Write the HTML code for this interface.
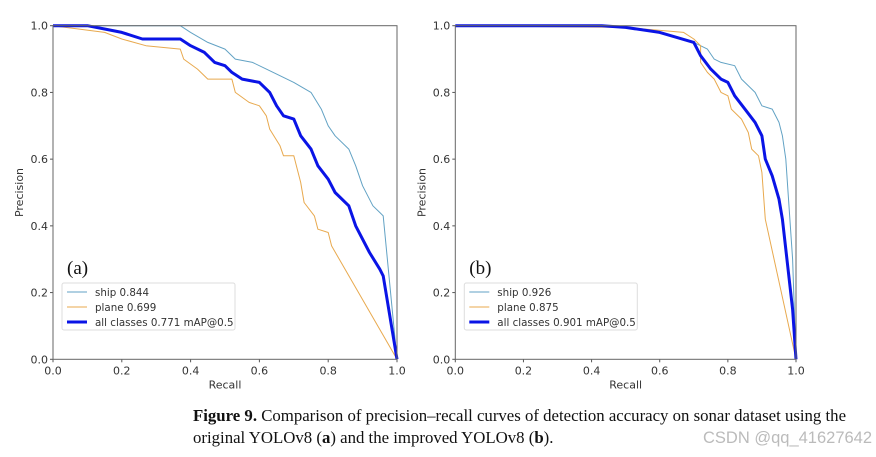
<!DOCTYPE html>
<html><head><meta charset="utf-8"><style>
body{margin:0;background:#fff;width:876px;height:452px;overflow:hidden}
svg text{font-family:"DejaVu Sans","Liberation Sans",sans-serif}
.cap{font-family:"Liberation Serif",serif;font-size:16.8px;fill:#111}
</style></head><body>
<svg id="fig" width="876" height="452" xmlns="http://www.w3.org/2000/svg">
<text class="cap" x="193" y="421"><tspan font-weight="bold">Figure 9.</tspan> Comparison of precision–recall curves of detection accuracy on sonar dataset using the</text>
<text class="cap" x="193" y="443">original YOLOv8 (<tspan font-weight="bold">a</tspan>) and the improved YOLOv8 (<tspan font-weight="bold">b</tspan>).</text>
<text x="703" y="443" font-size="16.5" fill="#bbb" style="font-family:'Liberation Sans',sans-serif">CSDN @qq_41627642</text>
</svg>
<script>
const ticks=[0,0.2,0.4,0.6,0.8,1.0];
const tickLabels=["0.0","0.2","0.4","0.6","0.8","1.0"];
const aShipR=[0,0.37,0.4,0.45,0.5,0.53,0.58,0.62,0.65,0.7,0.75,0.78,0.8,0.82,0.86,0.88,0.9,0.93,0.95,0.96,1.0];
const aShipP=[1,1,0.98,0.95,0.93,0.90,0.89,0.87,0.855,0.83,0.80,0.75,0.70,0.67,0.63,0.58,0.52,0.46,0.44,0.43,0];
const aPlaneR=[0,0.15,0.2,0.27,0.37,0.38,0.42,0.45,0.52,0.53,0.57,0.6,0.62,0.63,0.66,0.67,0.7,0.72,0.73,0.76,0.77,0.8,0.81,1.0];
const aPlaneP=[1,0.98,0.96,0.94,0.93,0.90,0.87,0.84,0.84,0.80,0.77,0.76,0.73,0.69,0.64,0.61,0.61,0.53,0.47,0.43,0.39,0.38,0.34,0];
const aAllR=[0,0.1,0.15,0.2,0.26,0.37,0.4,0.44,0.47,0.5,0.52,0.55,0.6,0.63,0.65,0.67,0.7,0.72,0.75,0.77,0.8,0.82,0.86,0.88,0.92,0.95,0.96,1.0];
const aAllP=[1,1,0.99,0.98,0.96,0.96,0.94,0.92,0.89,0.88,0.86,0.84,0.83,0.80,0.76,0.73,0.72,0.67,0.63,0.58,0.54,0.50,0.46,0.40,0.32,0.27,0.25,0];
const bShipR=[0,0.4,0.5,0.6,0.65,0.7,0.74,0.76,0.78,0.82,0.84,0.88,0.9,0.93,0.95,0.96,0.97,0.98,0.99,1.0];
const bShipP=[1,1,0.995,0.98,0.965,0.95,0.93,0.90,0.89,0.88,0.84,0.80,0.76,0.75,0.71,0.67,0.60,0.45,0.30,0];
const bPlaneR=[0,0.5,0.67,0.7,0.72,0.72,0.74,0.76,0.78,0.8,0.81,0.84,0.86,0.87,0.89,0.9,0.91,1.0];
const bPlaneP=[1,0.995,0.98,0.96,0.94,0.89,0.86,0.84,0.80,0.79,0.75,0.72,0.68,0.63,0.61,0.56,0.42,0];
const bAllR=[0,0.43,0.5,0.6,0.65,0.7,0.72,0.75,0.78,0.8,0.82,0.85,0.88,0.9,0.91,0.93,0.95,0.96,0.97,0.99,1.0];
const bAllP=[1,1,0.995,0.98,0.965,0.95,0.91,0.87,0.84,0.83,0.79,0.75,0.71,0.67,0.60,0.55,0.48,0.42,0.33,0.15,0];
const aLegend=["ship 0.844","plane 0.699","all classes 0.771 mAP@0.5"];
const bLegend=["ship 0.926","plane 0.875","all classes 0.901 mAP@0.5"];

const NS="http://www.w3.org/2000/svg";
const svg=document.getElementById('fig');
function mk(tag,attrs,parent,text){const e=document.createElementNS(NS,tag);for(const k in attrs)e.setAttribute(k,attrs[k]);if(text!==undefined)e.textContent=text;(parent||svg).appendChild(e);return e;}
function panel(id,x0,x1,y0,y1,series,legend,label){
  const g=mk('g',{});
  
  
  const sx=v=>x0+v*(x1-x0), sy=v=>y0-v*(y0-y1);
  ticks.forEach((t,i)=>{
    const xl=mk('text',{x:sx(t),y:y0+15,'font-size':11,'text-anchor':'middle',fill:'#333'},g,tickLabels[i]);
    
    
    mk('line',{x1:sx(t),x2:sx(t),y1:y0,y2:y0+3,stroke:'#555'},g);
    const yl=mk('text',{x:x0-5,y:sy(t)+4,'font-size':11,'text-anchor':'end',fill:'#333'},g,tickLabels[i]);
    
    
    mk('line',{x1:x0-3,x2:x0,y1:sy(t),y2:sy(t),stroke:'#555'},g);
  });
  const xt=mk('text',{x:(x0+x1)/2,y:y0+29,'font-size':11,'text-anchor':'middle',fill:'#333'},g,'Recall');
  
  
  const yx=x0-30, yc=(y0+y1)/2;
  const yt=mk('text',{x:yx,y:yc,'font-size':11,'text-anchor':'middle',fill:'#333',transform:`rotate(-90 ${yx} ${yc})`},g,'Precision');
  
  
  series.forEach(s=>{
    const pts=s.r.map((r,i)=>sx(r).toFixed(1)+','+sy(s.p[i]).toFixed(1)).join(' ');
    const pl=mk('polyline',{points:pts,fill:'none',stroke:s.c,'stroke-width':s.w,'stroke-linejoin':'round'},g);
    
    
  });
  mk('rect',{x:x0,y:y1,width:x1-x0,height:y0-y1,fill:'none',stroke:'#666','stroke-width':1},g);
  const lt=mk('text',{x:x0+14,y:274,'font-size':19,fill:'#111',style:"font-family:'Liberation Serif',serif"},g,label);
  
  
  const lg=mk('g',{},g);
  
  
  mk('rect',{x:x0+9,y:283,width:173,height:47,fill:'#fff',stroke:'#ddd',rx:2},lg);
  series.forEach((s,i)=>{
    const yy=292+i*15;
    mk('line',{x1:x0+14,x2:x0+34,y1:yy,y2:yy,stroke:s.c,'stroke-width':s.w},lg);
    const t=mk('text',{x:x0+42,y:yy+4,'font-size':10.3,fill:'#333'},lg,legend[i]);
    
    
  });
}
const cShip='#62a2c4', cPlane='#e8a94e', cAll='#0a14e6';
panel('a',53,397,359.3,25.7,[
  {r:aShipR,p:aShipP,c:cShip,w:1,n:'ship-curve'},
  {r:aPlaneR,p:aPlaneP,c:cPlane,w:1,n:'plane-curve'},
  {r:aAllR,p:aAllP,c:cAll,w:3,n:'all-classes-curve'}],aLegend,'(a)');
panel('b',455.3,796,359.3,25.7,[
  {r:bShipR,p:bShipP,c:cShip,w:1,n:'ship-curve'},
  {r:bPlaneR,p:bPlaneP,c:cPlane,w:1,n:'plane-curve'},
  {r:bAllR,p:bAllP,c:cAll,w:3,n:'all-classes-curve'}],bLegend,'(b)');
</script>
</body></html>
